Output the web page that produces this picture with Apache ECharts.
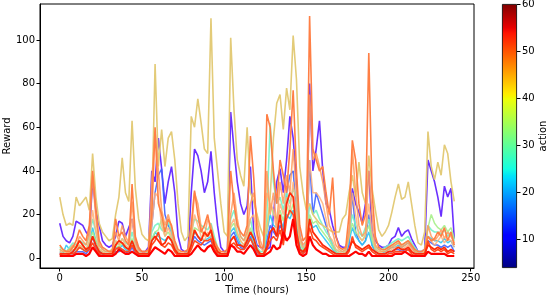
<!DOCTYPE html>
<html>
<head>
<meta charset="utf-8">
<script src="https://cdn.jsdelivr.net/npm/echarts@6/dist/echarts.min.js"></script>
<style>html,body{margin:0;padding:0;background:#fff}#c{width:546px;height:298px}</style>
</head>
<body>
<div id="c"></div>
<script>
// time grid: every 2 hours from 0 to 240
var hours = Array.from({length: 121}, function (_, i) { return i * 2; });
var xTicks = [0, 50, 100, 150, 200, 250];
var yTicks = [0, 20, 40, 60, 80, 100];
var cbTicks = [10, 20, 30, 40, 50, 60];
var cbMin = 4, cbMax = 60;

var purple = [16,10,8,7,10,17,16,15,12,10, 36,22,15,8,6,5,6,10,17,16, 10,14,18,8,4,3,3,5,40,35, 55,41,25,35,42,30,10,4,3,3,
  30,50,47,40,30,35,49,30,15,5, 3,3,67,50,35,25,20,24,42,12, 6,5,4,4,5,20,35,41,30,45, 65,55,35,10,5,4,80,40,50,63,
  40,25,22,15,10,6,5,5,10,32, 25,21,16,25,40,12,8,6,5,5, 6,9,10,14,10,12,13,9,6,3, 3,4,45,40,35,28,19,33,28,32, 9];
var blue = [2,2,2,2,2,3,3,3,2,4, 10,5,2,2,1,1,1,3,3,4, 3,2,5,2,1,1,1,1,15,30, 38,41,20,15,12,5,2,1,1,1,
  6,10,8,7,6,7,8,4,2,1, 1,1,10,12,8,5,4,6,10,5, 2,1,1,8,15,12,10,15,12,30, 38,40,20,5,2,4,45,20,30,25,
  20,15,10,6,3,2,2,2,6,30, 12,8,6,8,20,6,3,2,2,2, 3,3,4,4,3,4,4,3,2,1, 1,1,8,7,6,6,5,6,5,6, 3];
var cyan = [3,2,6,4,3,4,5,4,3,6, 14,8,4,2,2,2,2,5,4,6, 4,3,8,3,2,1,1,2,8,12, 10,9,8,10,8,3,2,1,1,2,
  8,12,10,9,8,9,10,6,3,1, 1,2,12,14,10,6,5,8,12,6, 3,2,2,12,20,15,14,18,14,20, 18,22,16,5,2,5,18,14,15,12,
  10,8,6,4,2,2,2,3,8,14, 10,8,6,8,12,6,3,2,2,3, 4,5,5,6,5,6,7,5,3,2, 2,2,10,9,8,8,7,9,7,8, 5];
var aqua = [5,4,3,5,7,6,8,7,6,10, 18,12,6,4,3,3,4,8,6,9, 7,6,12,6,3,2,2,3,12,15, 16,13,12,17,12,6,3,2,2,3,
  12,18,17,15,14,13,16,10,5,2, 2,3,18,22,15,10,8,12,18,10, 5,3,3,20,62,35,25,28,22,30, 25,32,28,10,4,8,25,20,22,18,
  15,12,10,6,4,3,3,4,12,20, 15,12,10,14,18,10,5,4,4,5, 6,7,8,9,8,9,10,7,5,3, 3,4,15,13,12,12,11,13,10,12, 8];
var lightGreen = [4,3,3,4,5,5,6,5,4,7, 12,8,4,3,2,2,3,6,5,7, 5,4,9,4,2,2,2,2,9,12, 13,18,10,12,9,4,2,2,2,2,
  9,14,13,12,11,10,12,8,4,2, 2,2,14,16,11,8,6,9,14,8, 4,2,2,15,25,20,18,22,17,24, 20,25,20,8,3,6,20,16,17,14,
  12,10,8,5,3,2,2,3,10,16, 12,10,8,11,15,8,4,3,3,4, 5,6,6,7,6,7,8,6,4,2, 2,3,14,20,16,14,13,15,12,14, 9];
var tan = [28,20,15,16,15,28,24,26,28,22, 48,28,16,12,10,8,9,20,28,46, 30,26,63,32,18,11,9,8,22,89, 42,59,42,55,58,45,25,12,8,10,
  65,60,73,62,50,48,110,55,40,25, 12,10,101,68,45,38,33,60,30,26, 20,14,10,12,28,55,71,75,59,78, 68,102,82,42,30,22,25,20,18,16,
  15,14,13,12,12,12,18,20,30,38, 28,44,30,25,47,32,22,13,10,12, 15,21,28,34,27,28,35,25,15,7, 6,12,58,42,36,44,38,52,48,35, 26];
var orangeC = [3,2,2,3,4,4,6,5,4,8, 22,12,4,3,2,2,3,8,6,9, 6,5,18,6,3,2,2,2,15,30, 28,15,10,14,10,4,2,2,2,2,
  10,20,15,10,8,12,10,6,3,2, 2,2,15,18,12,8,6,10,18,20, 10,5,3,30,25,22,12,25,20,28, 22,35,20,8,5,6,45,30,30,28,
  25,18,10,8,4,3,2,3,10,30, 20,10,8,10,25,12,4,3,2,2, 3,4,5,5,4,5,6,4,2,2, 2,2,10,8,6,8,10,7,9,8, 5];
var orangeB = [4,3,3,4,6,5,10,8,6,12, 38,18,6,4,3,3,4,12,8,15, 10,7,26,8,4,3,3,3,35,58, 40,22,15,20,14,6,3,2,2,3,
  12,30,25,14,10,18,15,8,4,2, 2,3,20,30,18,10,8,12,25,30, 18,8,4,40,20,30,15,35,25,38, 30,50,30,10,6,8,75,45,48,42,
  35,25,15,12,6,4,3,4,12,50, 30,15,10,12,40,20,6,4,3,3, 4,5,6,7,5,6,7,5,3,2, 2,3,15,10,8,10,13,9,12,10, 7];
var orangeA = [6,4,3,3,5,8,13,10,8,15, 40,22,8,5,4,3,3,18,10,12, 8,6,34,10,5,3,3,4,20,60, 25,20,12,18,15,8,4,3,3,4,
  15,31,20,12,15,20,12,8,5,3, 3,4,40,25,15,12,10,15,56,37, 12,5,5,66,60,40,25,45,38,30, 50,77,40,15,8,10,111,50,45,40,
  42,30,20,37,10,5,4,5,20,54, 45,25,15,20,94,30,10,5,4,4, 5,6,7,8,6,7,8,6,4,3, 3,4,10,8,9,12,10,14,8,12, 6];
var red3 = [2,1,1,2,2,3,5,4,3,4, 7,4,2,1,1,1,1,4,5,4, 3,3,6,3,1,1,1,1,6,8, 12,6,5,7,6,3,1,1,1,1,
  4,8,7,6,8,8,9,4,2,1, 1,1,6,7,5,4,4,6,9,6, 3,1,1,4,8,10,8,13,6,18, 22,20,10,3,2,4,14,9,8,6,
  5,4,3,2,1,1,1,1,3,10, 5,4,3,4,5,3,2,1,1,1, 2,2,3,3,3,3,4,2,1,1, 1,1,8,4,3,4,3,4,2,3, 2];
var red1 = [2,2,2,2,3,5,8,6,4,5, 10,6,3,2,2,2,2,6,8,7, 5,4,8,4,2,2,2,2,8,10, 8,6,7,10,8,4,2,2,2,2,
  6,13,10,8,12,10,13,6,3,2, 2,2,8,10,6,6,5,8,12,9, 4,2,2,5,12,14,10,20,8,25, 30,28,12,4,3,5,18,12,10,8,
  6,5,4,3,2,2,2,2,4,8, 6,5,4,5,6,4,3,2,2,2, 3,3,4,5,4,4,5,3,2,2, 2,2,6,5,4,5,4,5,3,4, 3];
var red2 = [1,1,1,1,1,2,2,2,1,2, 5,3,1,1,1,1,1,2,4,3, 2,2,3,2,1,1,1,1,3,5, 4,3,2,4,3,1,1,1,1,1,
  2,4,6,4,3,5,6,3,1,1, 1,1,6,5,3,3,2,4,6,4, 1,1,1,2,3,6,4,5,12,8, 10,18,6,2,1,2,10,6,4,3,
  2,2,1,1,1,1,1,1,1,2, 3,2,2,1,3,1,1,1,1,1, 1,1,2,2,2,3,2,1,1,1, 1,1,3,2,2,2,2,2,1,1, 1];

var lines = [
  {name: 'purple', data: purple, color: '#6a30ff', width: 1.6, opacity: 1},
  {name: 'blue', data: blue, color: '#3f63ff', width: 1.5, opacity: 0.9},
  {name: 'cyan', data: cyan, color: '#2fc8f2', width: 1.5, opacity: 0.9},
  {name: 'aqua', data: aqua, color: '#74f2c8', width: 1.6, opacity: 0.9},
  {name: 'lightGreen', data: lightGreen, color: '#a6f08a', width: 1.5, opacity: 0.9},
  {name: 'tan', data: tan, color: '#e3cb78', width: 1.6, opacity: 1},
  {name: 'orangeC', data: orangeC, color: '#ffb079', width: 1.5, opacity: 0.85},
  {name: 'orangeB', data: orangeB, color: '#ff9a5c', width: 1.6, opacity: 0.85},
  {name: 'orangeA', data: orangeA, color: '#ff7f45', width: 1.6, opacity: 1},
  {name: 'red3', data: red3, color: '#ff4a1e', width: 1.6, opacity: 1},
  {name: 'red1', data: red1, color: '#ff2a08', width: 1.8, opacity: 1},
  {name: 'red2', data: red2, color: '#ff0000', width: 2.2, opacity: 1}
];

var series = lines.map(function (l) {
  return {
    type: 'line', name: l.name, xAxisIndex: 0, yAxisIndex: 0,
    data: hours.map(function (h, i) { return [h, l.data[i]]; }),
    showSymbol: false, symbol: 'none', clip: true,
    lineStyle: {color: l.color, width: l.width, opacity: l.opacity},
    z: 2
  };
});

// jet colormap stops (position 0..1 from min to max)
var jet = [[0,'#000080'],[0.11,'#0000ff'],[0.125,'#0000ff'],[0.34,'#00dbff'],[0.35,'#00e5f7'],[0.375,'#14ffe2'],
  [0.64,'#eeff08'],[0.65,'#f7f500'],[0.66,'#ffec00'],[0.89,'#ff1300'],[0.91,'#e80000'],[1,'#800000']];
var stops = jet.map(function (s) { return {offset: 1 - s[0], color: s[1]}; }).reverse();

series.push({
  type: 'bar', xAxisIndex: 1, yAxisIndex: 1, stack: 'cb', data: [cbMin],
  barWidth: '100%', itemStyle: {color: 'rgba(0,0,0,0)'}, silent: true
});
series.push({
  type: 'bar', xAxisIndex: 1, yAxisIndex: 1, stack: 'cb', data: [cbMax - cbMin],
  barWidth: '100%', silent: true,
  itemStyle: {color: new echarts.graphic.LinearGradient(0, 0, 0, 1, stops), borderColor: '#000', borderWidth: 0.8}
});

var font = 'DejaVu Sans';
var chart = echarts.init(document.getElementById('c'), null, {renderer: 'canvas'});
chart.setOption({
  animation: false,
  backgroundColor: '#fff',
  textStyle: {fontFamily: font},
  grid: [
    {left: 40, top: 4, width: 434, height: 264, show: true, borderColor: '#000', borderWidth: 1, backgroundColor: 'transparent',
      containLabel: false, outerBoundsMode: 'none'},
    {left: 502, top: 4, width: 15, height: 264, containLabel: false, outerBoundsMode: 'none'}
  ],
  xAxis: [
    {type: 'value', gridIndex: 0, min: -12, max: 252,
      name: 'Time (hours)', nameLocation: 'middle', nameGap: 17, nameMoveOverlap: false,
      nameTextStyle: {color: '#000', fontSize: 10, fontFamily: font},
      splitLine: {show: false},
      axisLine: {show: true, onZero: false, lineStyle: {color: '#000', width: 1}},
      axisTick: {show: true, inside: false, length: 3.5, lineStyle: {color: '#000'}, customValues: xTicks},
      axisLabel: {color: '#000', fontSize: 10, fontFamily: font, margin: 5, customValues: xTicks}
    },
    {type: 'category', gridIndex: 1, data: ['a'], show: false}
  ],
  yAxis: [
    {type: 'value', gridIndex: 0, min: -4.5, max: 116.5,
      name: 'Reward', nameLocation: 'middle', nameGap: 33, nameRotate: 90, nameMoveOverlap: false,
      nameTextStyle: {color: '#000', fontSize: 10, fontFamily: font, verticalAlign: 'middle', align: 'center'},
      splitLine: {show: false},
      axisLine: {show: true, onZero: false, lineStyle: {color: '#000', width: 1}},
      axisTick: {show: true, inside: false, length: 3.5, lineStyle: {color: '#000'}, customValues: yTicks},
      axisLabel: {color: '#000', fontSize: 10, fontFamily: font, margin: 5, customValues: yTicks}
    },
    {type: 'value', gridIndex: 1, min: cbMin, max: cbMax, position: 'right',
      name: 'action', nameLocation: 'middle', nameGap: 26, nameRotate: 90, nameMoveOverlap: false,
      nameTextStyle: {color: '#000', fontSize: 10, fontFamily: font, verticalAlign: 'middle', align: 'center'},
      splitLine: {show: false},
      axisLine: {show: false},
      axisTick: {show: true, inside: false, length: 3.5, lineStyle: {color: '#000'}, customValues: cbTicks},
      axisLabel: {color: '#000', fontSize: 10, fontFamily: font, margin: 5, customValues: cbTicks}
    }
  ],
  series: series
});
</script>
</body>
</html>
